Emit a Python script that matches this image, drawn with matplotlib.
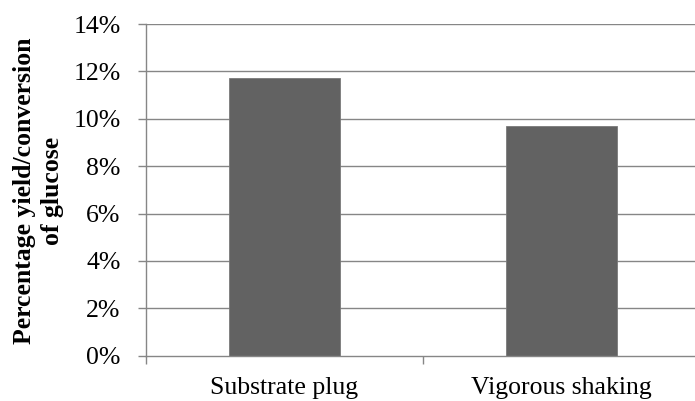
import matplotlib
matplotlib.use("Agg")
import matplotlib.pyplot as plt
from matplotlib.ticker import FixedLocator, FuncFormatter

categories = ["Substrate plug", "Vigorous shaking"]
values = [11.7, 9.7]
yticks = [0, 2, 4, 6, 8, 10, 12, 14]
ylabel = "Percentage yield/conversion\nof glucose"

plt.rcParams['font.family'] = ['Liberation Serif', 'DejaVu Serif']

fig = plt.figure(figsize=(6.95, 4.01), dpi=100)
ax = fig.add_axes([146/695, 1 - 355.7/401, (700 - 146)/695, (355.7 - 24)/401])

grid_c = '#868686'
x = list(range(len(categories)))
ax.bar(x, values, width=0.4, color='#626262', edgecolor='#7a7a7a', linewidth=0.6, zorder=3)

ax.set_ylim(0, 14)
ax.set_xlim(-0.5, len(categories) - 0.5)
ax.set_yticks(yticks)
ax.yaxis.set_major_formatter(FuncFormatter(lambda v, p: f"{v:.0f}%"))
ax.set_xticks(x)
ax.set_xticklabels(categories)
ax.xaxis.set_minor_locator(FixedLocator([i - 0.5 for i in range(len(categories) + 1)]))

for v in yticks[1:]:
    ax.axhline(v, color=grid_c, linewidth=1.0, zorder=1)

for s in ['top', 'right']:
    ax.spines[s].set_visible(False)
for s in ['left', 'bottom']:
    ax.spines[s].set_color(grid_c)
    ax.spines[s].set_linewidth(1.0)
    ax.spines[s].set_zorder(4)

ax.tick_params(axis='y', which='major', length=5.8, width=1.0, color=grid_c,
               pad=12.5, labelsize=18.5, labelcolor='black')
ax.tick_params(axis='x', which='major', length=0, pad=15, labelsize=18.5, labelcolor='black')
ax.tick_params(axis='x', which='minor', length=5.8, width=1.0, color=grid_c)

fig.text(0.056, 0.525, ylabel, rotation=90, ha='center', va='center',
         multialignment='center', fontsize=18.5, fontweight='bold', linespacing=1.27)

fig.savefig("out.png", dpi=100)
